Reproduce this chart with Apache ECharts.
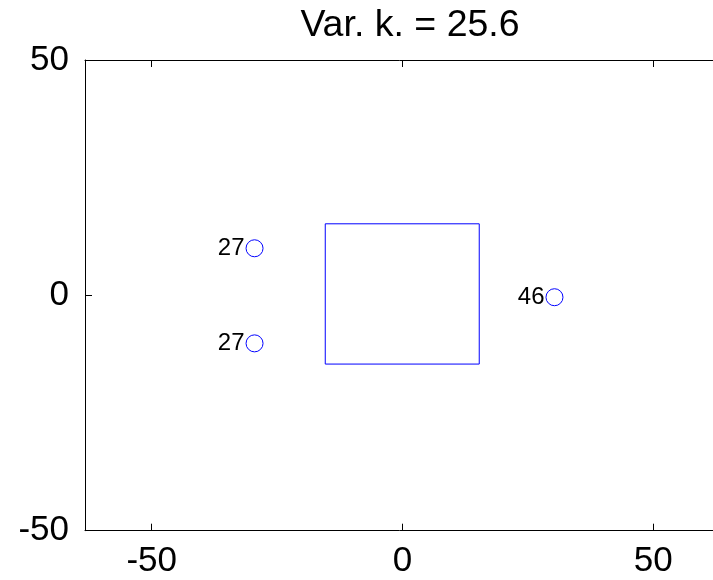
<!DOCTYPE html>
<html>
<head>
<meta charset="utf-8">
<script src="https://cdn.jsdelivr.net/npm/echarts@6/dist/echarts.min.js"></script>
<style>html,body{margin:0;padding:0;background:#fff;}#c{width:713px;height:580px;}</style>
</head>
<body>
<div id="c"></div>
<script>
const titleText = 'Var. k. = 25.6';
const pointX = [-29.5, -29.5, 30.3];
const pointY = [10.0, -10.2, -0.4];
const pointLabels = ['27', '27', '46'];
const boxX = [-15.4, 15.3, 15.3, -15.4, -15.4];
const boxY = [-14.6, -14.6, 15.2, 15.2, -14.6];
const xTicks = [-50, 0, 50];
const yTicks = [-50, 0, 50];
const xRange = [-63.3, 63.3];
const yRange = [-50, 50];

const chart = echarts.init(document.getElementById('c'), null, {renderer: 'canvas'});
const font = 'Liberation Sans';
const axisBase = (show, ticks, pos) => ({
  axisLine: {show: true, onZero: false, lineStyle: {color: '#000', width: 1}},
  axisTick: {show: true, inside: true, length: 7, customValues: ticks, lineStyle: {color: '#000'}},
  splitLine: {show: false},
  axisLabel: show ? {show: true, customValues: ticks, fontSize: 35, fontFamily: font, color: '#000', margin: pos} : {show: false}
});
chart.setOption({
  animation: false,
  title: {text: titleText, left: 405, top: 2, textAlign: 'center',
    textStyle: {fontSize: 37.5, fontWeight: 'normal', fontFamily: font, color: '#000'}},
  grid: {left: 85, top: 60, width: 635, height: 470.7, containLabel: false, outerBoundsMode: 'none'},
  xAxis: [
    Object.assign({type: 'value', position: 'bottom', min: xRange[0], max: xRange[1]}, axisBase(true, xTicks, 13)),
    Object.assign({type: 'value', position: 'top', min: xRange[0], max: xRange[1]}, axisBase(false, xTicks, 0))
  ],
  yAxis: [
    Object.assign({type: 'value', position: 'left', min: yRange[0], max: yRange[1]}, axisBase(true, yTicks, 16)),
    Object.assign({type: 'value', position: 'right', min: yRange[0], max: yRange[1]}, axisBase(false, yTicks, 0))
  ],
  series: [
    {
      type: 'line',
      data: boxX.map((x, i) => [x, boxY[i]]),
      symbol: 'none',
      lineStyle: {color: '#0000ff', width: 1},
      silent: true
    },
    {
      type: 'scatter',
      data: pointX.map((x, i) => ({value: [x, pointY[i]], name: pointLabels[i]})),
      symbol: 'circle',
      symbolSize: 17,
      itemStyle: {color: 'rgba(0,0,0,0)', borderColor: '#0000ff', borderWidth: 1, opacity: 1},
      label: {show: true, position: 'left', distance: 1, formatter: p => p.name,
        fontSize: 24, fontFamily: font, color: '#000'}
    }
  ]
});
</script>
</body>
</html>
